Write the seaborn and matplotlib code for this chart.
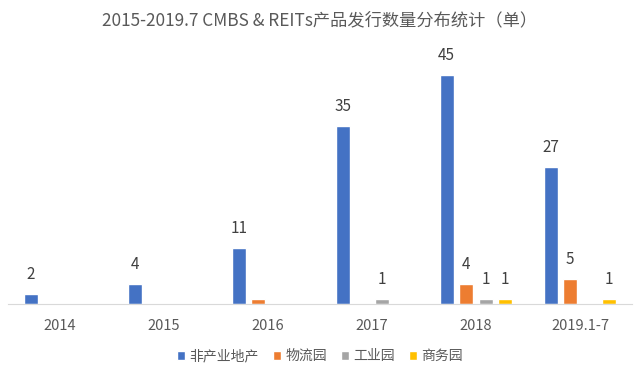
import pandas as pd
import seaborn as sns
import matplotlib.pyplot as plt

sns.set_style("white")
plt.rcParams['font.family'] = ['Noto Sans CJK SC', 'DejaVu Sans']

# data
years = ['2014', '2015', '2016', '2017', '2018', '2019.1-7']
series = ['非产业地产', '物流园', '工业园', '商务园']
non_industrial = [2, 4, 11, 35, 45, 27]
logistics = [0, 0, 1, 0, 4, 5]
industrial = [0, 0, 0, 1, 1, 0]
business = [0, 0, 0, 0, 1, 1]
# the small 2016 logistics bar has no label in the original
show_label = [[True] * 6,
              [False, False, False, False, True, True],
              [False, False, False, True, True, False],
              [False, False, False, False, True, True]]
colors = ['#4472c4', '#ed7d31', '#a5a5a5', '#ffc000']

df = pd.DataFrame({'年份': years * 4,
                   '类型': [s for s in series for _ in years],
                   '数量': non_industrial + logistics + industrial + business})

fig = plt.figure(figsize=(6.4, 3.83), dpi=100)
ax = fig.add_axes([0.0125, 0.206, 0.975, 0.664])
sns.barplot(data=df, x='年份', y='数量', hue='类型', palette=colors,
            width=0.75, saturation=1, ax=ax, legend=True)

# narrow bars so there is a gap between them
for cont in ax.containers:
    for p in cont.patches:
        cx = p.get_x() + p.get_width() / 2
        p.set_width(0.135)
        p.set_x(cx - 0.0675)

for cont, flags in zip(ax.containers, show_label):
    labels = [str(int(v)) if f else '' for v, f in zip(cont.datavalues, flags)]
    ax.bar_label(cont, labels=labels, padding=8, fontsize=11, color='#404040')

ax.set_xlim(-0.5, 5.5)
ax.set_ylim(0, 50)
ax.set_yticks([])
ax.set_xlabel('')
ax.set_ylabel('')
for s in ['top', 'right', 'left']:
    ax.spines[s].set_visible(False)
ax.spines['bottom'].set_color('#d9d9d9')
ax.tick_params(axis='x', length=0, labelsize=10.5, labelcolor='#595959', pad=11)

ax.legend_.remove()
handles, labs = ax.get_legend_handles_labels()
fig.legend(handles, labs, loc='center', bbox_to_anchor=(0.5, 0.07), ncol=4,
           frameon=False, fontsize=10, handlelength=0.6, handleheight=0.6,
           handletextpad=0.3, columnspacing=1.0, labelcolor='#595959')

fig.suptitle('2015-2019.7 CMBS & REITs产品发行数量分布统计（单）', y=0.97,
             fontsize=12.4, color='#595959')

fig.savefig('out.png', dpi=100)
